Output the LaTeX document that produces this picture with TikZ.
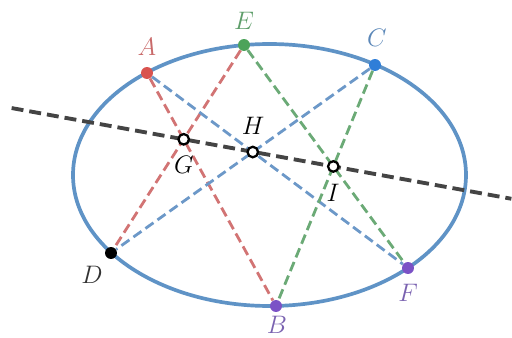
\documentclass[tikz,border=0pt]{standalone}
\usepackage{amsmath}
\usepackage{tikz}
\usepackage{xcolor}
\usetikzlibrary{calc}
\definecolor{ConicBlue}{HTML}{5F93C6}
\definecolor{LineRed}{HTML}{D27474}
\definecolor{LineBlue}{HTML}{6C98C8}
\definecolor{LineGreen}{HTML}{6BAA76}
\definecolor{Axis}{HTML}{444444}
\definecolor{DotRed}{HTML}{D9534F}
\definecolor{DotGreen}{HTML}{4CA35A}
\definecolor{DotBlue}{HTML}{2F7ED8}
\definecolor{DotPurple}{HTML}{7B52C6}
\definecolor{LblRed}{HTML}{C96A6A}
\definecolor{LblGreen}{HTML}{5E9E6A}
\definecolor{LblBlue}{HTML}{5B87B8}
\definecolor{LblPurple}{HTML}{7A62B0}

\begin{document}
\begin{tikzpicture}[x=0.02cm,y=-0.02cm,
  conic/.style={draw=ConicBlue,line width=2.1pt},
  lred/.style={draw=LineRed,line width=1.6pt,dash pattern=on 5.6pt off 2.8pt},
  lblue/.style={draw=LineBlue,line width=1.6pt,dash pattern=on 5.6pt off 2.8pt},
  lgreen/.style={draw=LineGreen,line width=1.6pt,dash pattern=on 5.6pt off 2.8pt},
  pascal/.style={draw=Axis,line width=2.2pt,dash pattern=on 6.8pt off 3.4pt},
  dot/.style={circle,inner sep=0pt,minimum size=6.8pt},
  hollow/.style={circle,draw=black,fill=white,line width=1.3pt,inner sep=0pt,minimum size=6pt},
  lbl/.style={font=\fontsize{15.5}{18}\selectfont}
]
\useasboundingbox (0,0) rectangle (512,338);
\draw[conic] (269.5,175) ellipse (196.5 and 131);
% six points on the conic
\node[dot,fill=DotRed] (A) at (147,73) {};
\node[dot,fill=DotGreen] (E) at (244,45) {};
\node[dot,fill=DotBlue] (C) at (375,65) {};
\node[dot,fill=black] (D) at (111,253) {};
\node[dot,fill=DotPurple] (B) at (276,306) {};
\node[dot,fill=DotPurple] (F) at (408,268) {};
% sides of the hexagon
\draw[lred] (A) -- (B);
\draw[lred] (E) -- (D);
\draw[lblue] (A) -- (F);
\draw[lblue] (C) -- (D);
\draw[lgreen] (E) -- (F);
\draw[lgreen] (C) -- (B);
% Pascal line
\coordinate (G) at (intersection of A.center--B.center and E.center--D.center);
\coordinate (H) at (intersection of A.center--F.center and C.center--D.center);
\coordinate (I) at (intersection of E.center--F.center and C.center--B.center);
\draw[pascal] ($(G)!-1.15!(I)$) -- ($(G)!2.19!(I)$);
\foreach \p in {G,H,I}
  \node[hollow] (\p o) at (\p) {};
% labels
\node[lbl,text=LblRed] (lA) at (147,47) {$A$};
\node[lbl,text=LblGreen] (lE) at (244,21) {$E$};
\node[lbl,text=LblBlue] (lC) at (377,38) {$C$};
\node[lbl,text=black!80] (lD) at (92,275) {$D$};
\node[lbl,text=LblPurple] (lB) at (277,325) {$B$};
\node[lbl,text=LblPurple] (lF) at (408,293) {$F$};
\node[lbl] (lG) at (184,165) {$G$};
\node[lbl] (lH) at (253,126) {$H$};
\node[lbl] (lI) at (333,193) {$I$};
\end{tikzpicture}
\end{document}
